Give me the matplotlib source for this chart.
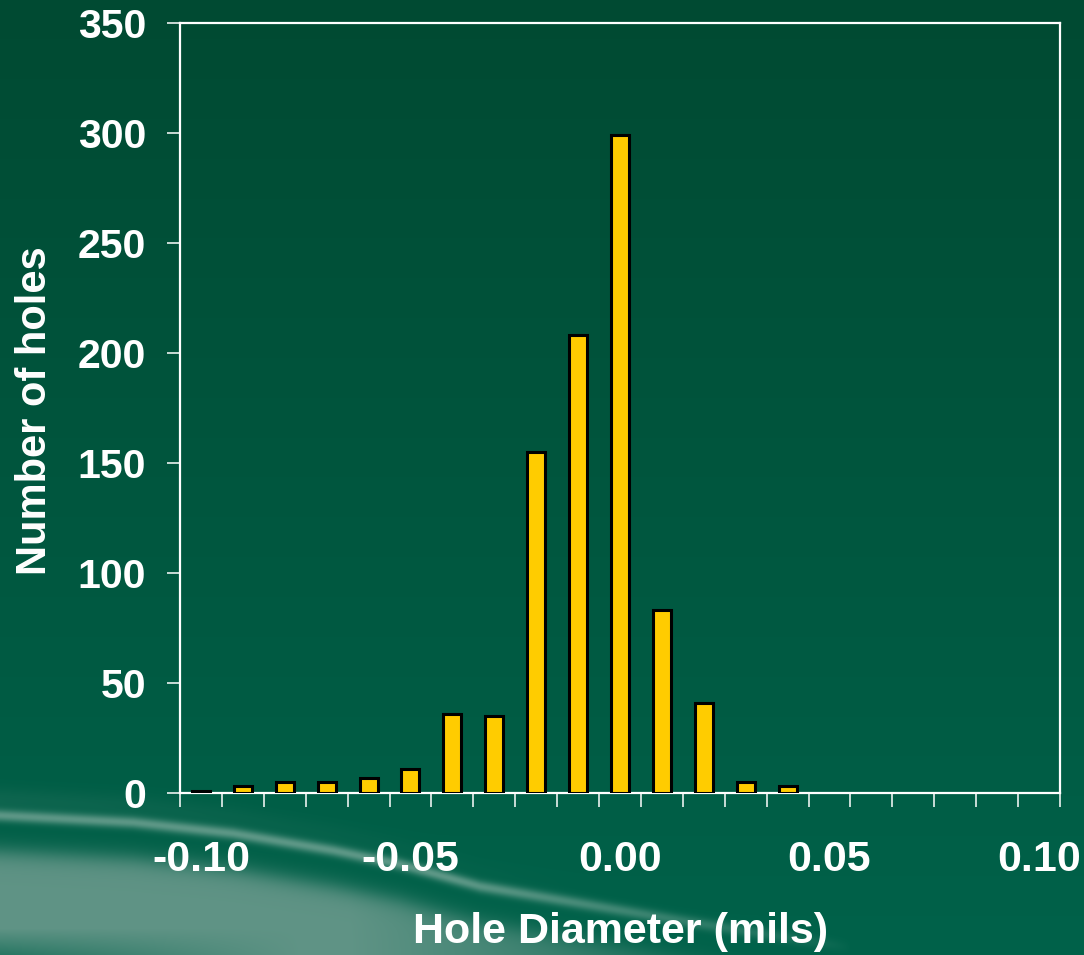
"""Hole diameter histogram on a green slide background."""
import matplotlib
matplotlib.use("Agg")
import matplotlib.pyplot as plt
import numpy as np

plt.rcParams["font.family"] = ["Liberation Sans", "DejaVu Sans"]
plt.rcParams["font.weight"] = "bold"

# data
diameters = np.round(np.arange(-0.10, 0.1001, 0.01), 2)
holes = [1, 3, 5, 5, 7, 11, 36, 35, 155, 208, 299, 83, 41, 5, 3, 0, 0, 0, 0, 0, 0]
y_ticks = [0, 50, 100, 150, 200, 250, 300, 350]
x_labels = [-0.10, -0.05, 0.00, 0.05, 0.10]

W, H = 1084, 955
fig = plt.figure(figsize=(W / 100, H / 100), dpi=100)

# --- background: dark green gradient + light swoosh bottom-left
bg = fig.add_axes([0, 0, 1, 1]); bg.axis("off")
yy, xx = np.mgrid[0:H, 0:W].astype(float)
top = np.array([0, 74, 50]) / 255; bot = np.array([0, 98, 74]) / 255
t = (yy / H)[..., None]
img = top * (1 - t) + bot * t


def blend(img, a, rgb):
    a = a[..., None]
    return img * (1 - a) + np.array(rgb) / 255 * a


cx = [0, 133, 233, 333, 400, 480, 580, 680, 780, 900]
cy = [815, 822, 833, 850, 864, 886, 903, 920, 936, 955]
d = yy - np.interp(xx, cx, cy)
# lighter area under the streak
low = 1 / (1 + np.exp(-(d - 36) / 6)) * np.clip((800 - xx) / 450, 0, 1) ** 0.8
low *= 1 - np.clip((yy - 928) / 27, 0, 1) * 0.6 * np.clip((300 - xx) / 300, 0, 1)
img = blend(img, 0.9 * low, [106, 153, 140])
# thin bright streak
band = np.exp(-(d / 6) ** 2) * np.clip((850 - xx) / 400, 0, 1) ** 0.7
img = blend(img, 0.72 * band, [128, 172, 158])
# faint haze above the streak
haze = np.exp(-((d + 16) / 12) ** 2) * np.clip((600 - xx) / 600, 0, 1) * 0.15
img = blend(img, haze, [90, 140, 125])
bg.imshow(np.clip(img, 0, 1), extent=[0, W, H, 0], aspect="auto")
bg.set_xlim(0, W); bg.set_ylim(H, 0)

# --- chart
ax = fig.add_axes([180 / W, (H - 793) / H, 880 / W, 770 / H])
ax.patch.set_alpha(0)
mask = np.array(holes) > 0
ax.bar(diameters[mask], np.array(holes)[mask], width=0.0043, color="#FFCC00",
       edgecolor="black", linewidth=2.2, zorder=3)
ax.set_xlim(-0.105, 0.105); ax.set_ylim(0, 350)
for s in ax.spines.values():
    s.set_color("white"); s.set_linewidth(1.6)

ax.set_xticks(x_labels)
ax.set_xticklabels([f"{v:.2f}" for v in x_labels])
ax.set_xticks(np.arange(-0.105, 0.1051, 0.01), minor=True)
ax.tick_params(axis="x", which="major", length=0, pad=34, labelsize=31, labelcolor="white")
ax.tick_params(axis="x", which="minor", length=10, width=1.1, color="white", direction="out")
ax.set_yticks(y_ticks)
ax.tick_params(axis="y", which="major", length=9.5, width=1.1, color="white", pad=15,
               labelsize=29.5, labelcolor="white")
for lab in ax.get_xticklabels() + ax.get_yticklabels():
    lab.set_fontweight("bold")

fig.text(621 / W, 1 - 943 / H, "Hole Diameter (mils)", color="white", fontsize=31,
         fontweight="bold", ha="center", va="baseline")
fig.text(46 / W, 1 - 411 / H, "Number of holes", color="white", fontsize=30,
         fontweight="bold", ha="center", va="baseline", rotation=90, rotation_mode="anchor")

fig.savefig("out.png", dpi=100)
